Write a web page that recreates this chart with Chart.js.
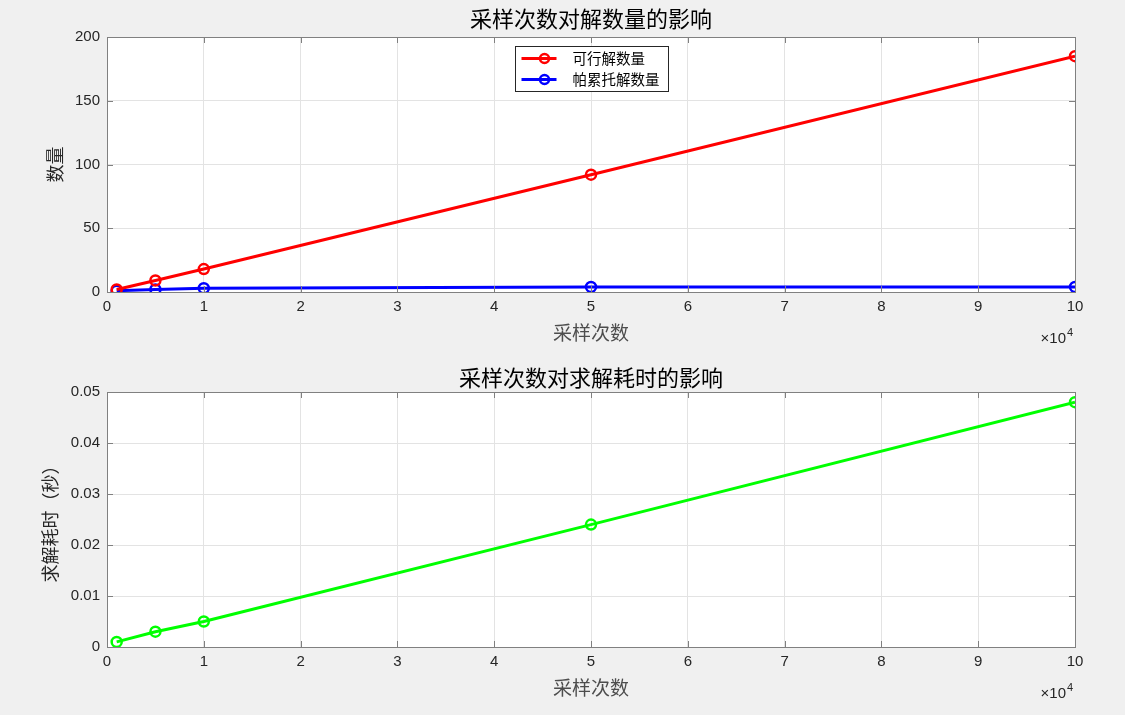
<!DOCTYPE html>
<html>
<head>
<meta charset="utf-8">
<script src="https://cdn.jsdelivr.net/npm/chart.js@4/dist/chart.umd.min.js"></script>
<style>
  html, body { margin: 0; padding: 0; background: #f0f0f0; }
  canvas { position: absolute; left: 0; }
  #top { top: 0; }
  #bottom { top: 357px; }
</style>
</head>
<body>
<canvas id="top" width="1125" height="357"></canvas>
<canvas id="bottom" width="1125" height="358"></canvas>
<script>
'use strict';
var samples = [1000, 5000, 10000, 50000, 100000];
var feasible = [2, 9, 18, 92, 185];
var pareto = [1, 2, 3, 4, 4];
var solveTime = [0.001, 0.003, 0.005, 0.024, 0.048];

var seriesNames = ['可行解数量', '帕累托解数量', '求解耗时'];
var titles = ['采样次数对解数量的影响', '采样次数对求解耗时的影响'];
var xLabel = '采样次数';
var yLabels = ['数量', '求解耗时（秒）'];

var cjk = '"Noto Sans CJK SC", sans-serif';
var latin = '"Liberation Sans", Arial, sans-serif';

function toPoints(ys) {
  var pts = [];
  for (var i = 0; i < samples.length; i++) {
    pts.push({ x: samples[i], y: ys[i] });
  }
  return pts;
}

function makeSet(label, ys, color) {
  return {
    label: label,
    data: toPoints(ys),
    borderColor: color,
    backgroundColor: 'rgba(0,0,0,0)',
    borderWidth: 3,
    pointRadius: 5,
    pointBorderWidth: 2.5,
    pointHoverRadius: 5,
    pointStyle: 'circle'
  };
}

// white plot box, gray frame, inward ticks, x10^4 note
var matlabBox = {
  id: 'matlabBox',
  beforeDraw: function (chart) {
    var a = chart.chartArea, c = chart.ctx;
    c.save();
    c.fillStyle = '#ffffff';
    c.fillRect(a.left, a.top, a.right - a.left, a.bottom - a.top);
    c.restore();
  },
  afterDraw: function (chart) {
    var a = chart.chartArea, c = chart.ctx;
    var xs = chart.scales.x, ys = chart.scales.y;
    c.save();
    c.strokeStyle = '#808080';
    c.lineWidth = 1;
    c.beginPath();
    xs.ticks.forEach(function (t) {
      var px = Math.round(xs.getPixelForValue(t.value)) + 0.5;
      c.moveTo(px, a.bottom); c.lineTo(px, a.bottom - 6);
      c.moveTo(px, a.top); c.lineTo(px, a.top + 6);
    });
    ys.ticks.forEach(function (t) {
      var py = Math.round(ys.getPixelForValue(t.value)) + 0.5;
      c.moveTo(a.left, py); c.lineTo(a.left + 6, py);
      c.moveTo(a.right, py); c.lineTo(a.right - 6, py);
    });
    c.stroke();
    c.strokeRect(Math.round(a.left) + 0.5, Math.round(a.top) + 0.5,
      Math.round(a.right - a.left), Math.round(a.bottom - a.top));

    c.fillStyle = '#262626';
    c.textBaseline = 'alphabetic';
    c.textAlign = 'right';
    c.font = '11px ' + latin;
    c.fillText('4', a.right - 2, a.bottom + 44);
    c.font = '15px ' + latin;
    c.fillText('\u00d710', a.right - 9, a.bottom + 51);
    c.restore();
  }
};

// legend drawn inside the plot, top centre
var innerLegend = {
  id: 'innerLegend',
  afterDraw: function (chart) {
    var a = chart.chartArea, c = chart.ctx;
    var sets = chart.data.datasets;
    var w = 153, h = 45;
    var left = Math.round((a.left + a.right) / 2 - w / 2) + 0.5;
    var top = Math.round(a.top + 9) + 0.5;
    c.save();
    c.fillStyle = '#ffffff';
    c.fillRect(left, top, w, h);
    c.strokeStyle = '#262626';
    c.lineWidth = 1;
    c.strokeRect(left, top, w, h);
    c.font = '14.5px ' + cjk;
    c.textBaseline = 'middle';
    c.textAlign = 'left';
    for (var i = 0; i < sets.length; i++) {
      var y = top + 12 + i * 21;
      c.strokeStyle = sets[i].borderColor;
      c.lineWidth = 3;
      c.beginPath();
      c.moveTo(left + 6, y); c.lineTo(left + 41, y);
      c.stroke();
      c.lineWidth = 2.5;
      c.beginPath();
      c.arc(left + 29, y, 4.5, 0, Math.PI * 2);
      c.stroke();
      c.fillStyle = '#000000';
      c.fillText(sets[i].label, left + 57, y);
    }
    c.restore();
  }
};

function makeOptions(opts) {
  return {
    responsive: false,
    animation: false,
    layout: { padding: { left: 0, right: 50, top: 0, bottom: opts.bottomPad } },
    plugins: {
      legend: { display: false },
      tooltip: { enabled: false },
      title: {
        display: true,
        fullSize: false,
        text: opts.title,
        color: '#000000',
        font: { family: cjk, size: 22, weight: 'normal', lineHeight: 1.2 },
        padding: { top: opts.titleTop, bottom: opts.titleBottom }
      }
    },
    scales: {
      x: {
        type: 'linear',
        min: 0,
        max: 100000,
        afterFit: function (s) { s.height = 52; },
        ticks: {
          stepSize: 10000,
          padding: 6,
          color: '#262626',
          font: { family: latin, size: 15 },
          maxRotation: 0,
          callback: function (v) { return String(v / 10000); }
        },
        grid: { color: '#e3e3e3', drawTicks: false },
        border: { display: false },
        title: {
          display: true,
          text: xLabel,
          color: '#4d4d4d',
          font: { family: cjk, size: 19, lineHeight: 1.2 },
          padding: { top: 0, bottom: 0 }
        }
      },
      y: {
        type: 'linear',
        min: opts.yMin,
        max: opts.yMax,
        afterFit: function (s) { s.width = 107; },
        ticks: {
          stepSize: opts.yStep,
          padding: 7,
          color: '#262626',
          font: { family: latin, size: 15 },
          callback: opts.yFmt
        },
        grid: { color: '#e3e3e3', drawTicks: false },
        border: { display: false },
        title: {
          display: true,
          text: opts.yLabel,
          color: '#262626',
          font: { family: cjk, size: 18, lineHeight: 1.2 },
          padding: { top: opts.yTitlePad, bottom: 0 }
        }
      }
    }
  };
}

var topChart = new Chart(document.getElementById('top').getContext('2d'), {
  type: 'line',
  data: {
    datasets: [
      makeSet(seriesNames[0], feasible, '#ff0000'),
      makeSet(seriesNames[1], pareto, '#0000ff')
    ]
  },
  options: makeOptions({
    title: titles[0], titleTop: 5, titleBottom: 5.6,
    bottomPad: 13, yMin: 0, yMax: 200, yStep: 50,
    yLabel: yLabels[0], yTitlePad: 44,
    yFmt: function (v) { return String(v); }
  }),
  plugins: [matlabBox, innerLegend]
});

var bottomChart = new Chart(document.getElementById('bottom').getContext('2d'), {
  type: 'line',
  data: {
    datasets: [makeSet(seriesNames[2], solveTime, '#00ff00')]
  },
  options: makeOptions({
    title: titles[1], titleTop: 7, titleBottom: 1.6,
    bottomPad: 16, yMin: 0, yMax: 0.05, yStep: 0.01,
    yLabel: yLabels[1], yTitlePad: 39,
    yFmt: function (v) { return v === 0 ? '0' : v.toFixed(2); }
  }),
  plugins: [matlabBox]
});
</script>
</body>
</html>
